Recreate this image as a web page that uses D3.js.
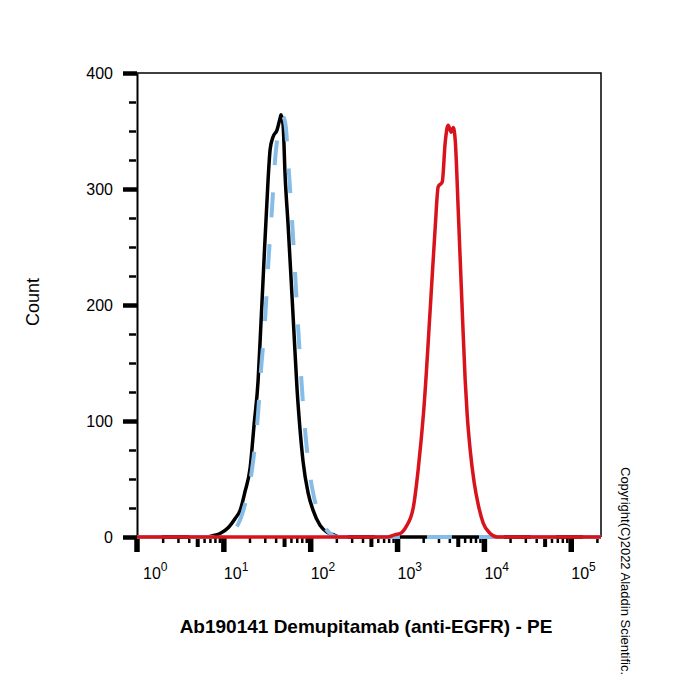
<!DOCTYPE html>
<html>
<head>
<meta charset="utf-8">
<script src="https://cdn.jsdelivr.net/npm/d3@7"></script>
<style>
    html, body { margin: 0; padding: 0; background: #fff; }
    svg { display: block; font-family: 'Liberation Sans', Arial, sans-serif; }
</style>
</head>
<body>
<svg class="histogram" width="700" height="700"></svg>
<script>
'use strict';

// fluorescence values (PE) and event counts
var isotypeX = [1, 6.07, 7.31, 9.04, 11.2, 13.5, 15.4, 17.5, 20.1, 22.3, 24.8, 26.5, 28.3, 32.3, 34.1, 36.9, 41.0, 44.4, 45.6,
    48.1, 50.7, 54.9, 59.5, 64.4, 69.7, 75.5, 81.7, 93.3, 106.6, 128.3, 154.5, 181, 218, 220000];
var isotypeY = [0, 0, 1, 3, 8, 16, 23, 39, 60, 97, 135, 178, 222, 308, 334, 345, 351, 361, 364,
    355, 312, 269, 222, 174, 127, 92, 65, 38, 23, 10, 4, 2, 0, 0];

var blankX = [1, 9.53, 12.8, 16.6, 21.7, 24.8, 26.8, 29.8, 32.3, 35.9, 38.9, 42.1, 44.4, 46.9, 49.4,
    52.1, 54.9, 59.5, 64.4, 69.7, 75.5, 81.7, 93.3, 109.4, 128.3, 146.6, 167.4, 201, 220000];
var blankY = [0, 0, 5, 22, 65, 107, 144, 187, 233, 284, 325, 349, 359, 363, 361,
    351, 325, 286, 243, 196, 153, 114, 66, 34, 17, 8, 3, 0, 0];

var stainedX = [1, 779, 938, 1071, 1256, 1514, 1727, 1871, 2024, 2375, 2713, 2938, 3268, 3535, 3727, 3828,
    4147, 4375, 4615, 4995, 5550, 6009, 6340, 6859, 7622, 8487, 9684, 11665, 14040, 220000];
var stainedY = [0, 0, 2, 3, 9, 25, 58, 84, 114, 196, 267, 302, 306, 340, 353, 355,
    349, 353, 342, 282, 196, 135, 105, 75, 47, 28, 12, 3, 0, 0];

var countTicks = [0, 100, 200, 300, 400];
var decadeTicks = [0, 1, 2, 3, 4, 5];
var xTitle = 'Ab190141 Demupitamab (anti-EGFR) - PE';
var yTitle = 'Count';
var copyright = 'Copyright(C)2022 Aladdin Scientific.';

var drawChart = function() {
    var margin = { top: 73, left: 137 },
        width = 464,
        height = 464;

    var svg = d3.select('svg.histogram');

    var xScale = d3.scaleLog().domain([1, 220000]).range([margin.left, margin.left + width]);
    var yScale = d3.scaleLinear().domain([0, 400]).range([margin.top + height, margin.top]);

    var zip = function(xs, ys) {
        return xs.map(function(x, i) { return { x: x, y: ys[i] }; });
    };

    var line = d3.line()
        .x(function(d) { return xScale(d.x); })
        .y(function(d) { return yScale(d.y); })
        .curve(d3.curveMonotoneX);

    // frame
    svg.append('path')
        .attr('d', 'M' + margin.left + ',' + margin.top + 'H' + (margin.left + width) + 'V' + (margin.top + height))
        .attr('stroke', '#000').attr('stroke-width', 1.5).attr('fill', 'none');

    // y axis, thick major and thin minor ticks
    var yMajor = d3.axisLeft(yScale).tickValues(countTicks).tickSize(14).tickPadding(10).tickSizeOuter(0);
    var gy = svg.append('g').attr('transform', 'translate(' + margin.left + ',0)').call(yMajor);
    gy.select('.domain').attr('stroke-width', 2);
    gy.selectAll('.tick line').attr('stroke-width', 4.5);
    gy.selectAll('.tick text').attr('font-size', 16).attr('font-family', 'Liberation Sans, Arial, sans-serif').attr('fill', '#000');

    var yMinor = d3.axisLeft(yScale).tickValues(d3.range(25, 400, 25).filter(function(v) { return v % 100; }))
        .tickSize(7).tickFormat('').tickSizeOuter(0);
    var gym = svg.append('g').attr('transform', 'translate(' + (margin.left - 1) + ',0)').call(yMinor);
    gym.select('.domain').remove();
    gym.selectAll('.tick line').attr('stroke-width', 2.5);

    // x axis, log ticks: decades long, fives medium, the rest short
    var mantissa = function(d) {
        return Math.round(d / Math.pow(10, Math.floor(Math.log10(d) + 1e-9)));
    };
    var gx = svg.append('g').attr('transform', 'translate(0,' + (margin.top + height) + ')');
    gx.selectAll('line').data(xScale.ticks()).enter().append('line')
        .attr('x1', function(d) { return xScale(d); })
        .attr('x2', function(d) { return xScale(d); })
        .attr('y1', 0)
        .attr('y2', function(d) { var m = mantissa(d); return m === 1 ? 15 : (m === 5 ? 10 : 6); })
        .attr('stroke', '#000')
        .attr('stroke-width', function(d) { var m = mantissa(d); return m === 1 ? 5.5 : (m === 5 ? 4 : 2.5); });

    var labels = gx.selectAll('text').data(decadeTicks).enter().append('text')
        .attr('x', function(d) { return Math.max(xScale(Math.pow(10, d)), margin.left + 6); })
        .attr('y', 42)
        .attr('font-size', 16)
        .attr('fill', '#000');
    labels.append('tspan').text('10');
    labels.append('tspan').attr('font-size', 12).attr('dy', -8).text(function(d) { return d; });

    // histograms
    var series = [
        { data: zip(isotypeX, isotypeY), color: '#000000', dash: null },
        { data: zip(blankX, blankY), color: '#86bde8', dash: '25,27' },
        { data: zip(stainedX, stainedY), color: '#d8131b', dash: null }
    ];
    series.forEach(function(s) {
        svg.append('path').attr('d', line(s.data))
            .attr('fill', 'none')
            .attr('stroke', s.color)
            .attr('stroke-width', s.dash ? 4 : 3.5)
            .attr('stroke-dasharray', s.dash)
            .attr('stroke-linejoin', 'round');
    });

    // titles
    svg.append('text')
        .attr('x', 366).attr('y', 633)
        .attr('text-anchor', 'middle')
        .attr('font-size', 19).attr('font-weight', 'bold')
        .text(xTitle);

    svg.append('text')
        .attr('transform', 'translate(39,302) rotate(-90)')
        .attr('text-anchor', 'middle')
        .attr('font-size', 18)
        .text(yTitle);

    svg.append('text')
        .attr('transform', 'translate(621,467) rotate(90)')
        .attr('font-size', 13)
        .text(copyright);
};

drawChart();
</script>
</body>
</html>
